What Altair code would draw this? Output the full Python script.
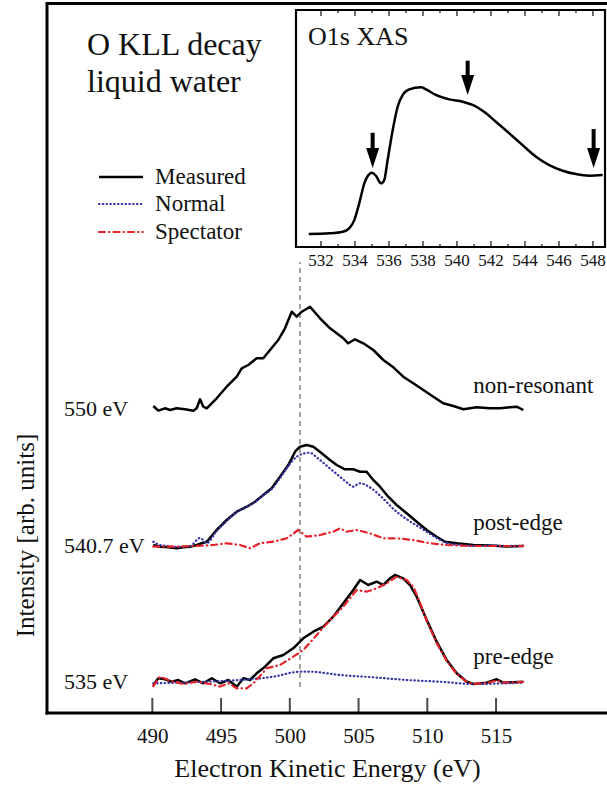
import altair as alt
import pandas as pd

FONT = "Liberation Serif, 'Times New Roman', Times, 'DejaVu Serif', serif"
BLACK = "#111111"
BLUE = "#3434a8"
RED = "#e5232b"

# ---------------- main panel: O KLL Auger spectra ----------------
nr_E = [490.07, 490.44, 490.92, 491.29, 491.77, 492.38, 492.98, 493.23, 493.47, 493.71,
        493.96, 494.68, 495.41, 496.14, 496.50, 496.98, 497.59, 498.07, 498.56, 499.16,
        499.65, 500.14, 500.50, 500.87, 501.47, 502.20, 502.93, 503.41, 503.89, 504.25,
        504.74, 505.35, 506.07, 506.80, 507.53, 508.25, 508.98, 509.71, 510.44, 511.16,
        511.89, 512.62, 513.59, 514.56, 515.29, 516.01, 516.50, 516.98]
nr_meas = [2.5, -2.2, 0.2, -1.5, 0.2, -0.8, -2.2, 0.2, 9.2, 1.8,
           0.2, 10.2, 21.8, 31.8, 40.2, 43.5, 50.2, 50.2, 58.5, 68.5,
           80.2, 96.8, 91.8, 96.8, 101.8, 90.2, 80.2, 75.2, 70.2, 65.2,
           69.2, 65.2, 58.5, 48.5, 41.2, 31.8, 25.2, 18.5, 11.8, 5.2,
           2.5, -0.8, 1.2, 0.2, 0.2, 1.2, 1.8, -1.5]

post_meas_E = [490.07, 490.56, 491.16, 491.77, 492.25, 492.74, 493.23, 493.59, 493.96, 494.68,
               495.41, 496.14, 496.87, 497.47, 498.07, 498.68, 499.29, 499.89, 500.38, 500.74,
               501.23, 501.71, 502.32, 502.92, 503.41, 504.01, 504.62, 505.11, 505.59, 506.07,
               506.56, 507.16, 507.77, 508.50, 509.23, 509.96, 510.68, 511.29, 512.14, 513.35,
               514.56, 515.77, 516.98]
post_meas = [1, -0.7, -1.3, -2.3, -1.3, -0.7, 1, 2.7, 4.3, 16,
             26, 34.3, 39.3, 44.3, 51, 57.7, 69.3, 81, 94.3, 99.3,
             101, 99.3, 92.7, 86, 81, 76.7, 76.7, 74.3, 74.3, 66,
             59.3, 49.3, 41, 32.7, 24.3, 16, 9.3, 4.3, 2.7, 1,
             0.5, -0.5, 0]
post_norm_E = [490.07, 490.56, 491.16, 491.77, 492.74, 493.47, 493.96, 494.68, 495.41, 496.14,
               496.87, 497.47, 498.07, 498.68, 499.29, 499.89, 500.50, 501.43, 502.04, 502.77,
               503.50, 504.23, 504.59, 505.08, 505.93, 506.65, 507.62, 508.59, 509.56, 510.53,
               511.50, 512.47, 513.35, 514.56, 515.77, 516.98]
post_norm = [4.3, 1, 0, -1, 0, 8, 3, 15, 25, 34,
             39, 44, 51, 57, 68, 80, 89.3, 93.3, 87.7, 79.3,
             71, 62.7, 59.3, 62.7, 57.7, 49.3, 36, 26, 17.7, 9.3,
             2.7, 1, 0, 0.5, 0, 0.3]
post_spec_E = [490.07, 491.53, 492.98, 494.44, 495.41, 496.38, 497.11, 497.83, 498.80, 499.77,
               500.62, 501.23, 502.20, 503.16, 503.65, 504.14, 504.87, 505.83, 506.80, 507.77,
               508.98, 510.20, 511.41, 512.87, 516.98]
post_spec = [-0.7, -0.7, 0, 1, 2.7, 1, -2.3, 2.7, 4.3, 7.7,
             16, 9.3, 11, 14.3, 17.7, 14.3, 16, 12.7, 7.7, 7.7,
             6, 2.7, 1, 0, 0]

pre_meas_E = [490.07, 490.44, 490.92, 491.41, 491.89, 492.38, 493.11, 493.71, 494.32, 494.92,
              495.53, 496.14, 496.62, 497.11, 497.59, 498.20, 498.80, 499.53, 500.25, 500.98,
              501.71, 502.44, 503.16, 503.89, 504.62, 505.11, 505.71, 506.32, 506.80, 507.29,
              507.65, 508.25, 508.74, 509.23, 509.96, 510.68, 511.41, 512.14, 512.87, 513.35,
              514.32, 515.05, 515.53, 516.98]
pre_meas = [-3, 3.7, 2.7, 0.3, 2, -1.3, 2.7, -1.3, 3.7, -1.3,
            2, -4.7, 3.7, 2, 8.7, 15.3, 23.7, 27, 33.7, 43.7,
            50.3, 55.3, 65.3, 78.7, 92, 102, 97, 100.3, 97, 103.7,
            107, 103.7, 97, 85.3, 62, 40.3, 22, 8.7, 0.3, -2,
            -0.7, 2.7, -0.7, 0.3]
pre_spec_E = [490.07, 490.56, 491.29, 492.25, 493.23, 494.20, 494.92, 495.53, 496.14, 496.87,
              497.47, 498.32, 499.29, 500.25, 500.98, 501.96, 502.93, 503.89, 504.86, 505.59,
              506.32, 507.05, 507.77, 508.50, 508.98, 509.40, 509.96, 510.68, 511.41, 512.14,
              512.87, 513.35, 514.32, 515.05, 515.53, 516.98]
pre_spec = [-4, 5.3, 1.3, -2, 0.3, -2, -4.7, -1.3, -6.3, -6.3,
            0.3, 13.7, 17, 25.3, 32, 47, 62, 75.3, 92, 90.3,
            93.7, 98.7, 105.3, 102, 95.3, 82, 61, 39, 21, 8,
            0, -2, -1, 1.5, -0.7, 0]
pre_norm_E = [490.07, 493.96, 496.38, 498.80, 500.74, 501.47, 503.65, 506.07, 508.50, 510.92,
              513.35, 516.98]
pre_norm = [-1.3, 0.3, 2, 5.3, 10.3, 10.3, 7, 4.7, 2, 0.3, -2, -0.7]

spectra = ["550 eV", "540.7 eV", "535 eV"]
offsets = [304.5, 167, 31]
side_labels = ["non-resonant", "post-edge", "pre-edge"]
side_label_y = [327, 190, 56]

x_ticks = [490, 495, 500, 505, 510, 515]
x_domain = [482.34, 523.07]
y_domain = [0, 713]
frame_top = 709.5
ref_energy = 500.74
ref_span = [26, 451]

legend_names = ["Measured", "Normal", "Spectator"]
legend_y = [536, 509, 481]

# ---------------- inset: O1s XAS ----------------
xas_E = [531.28, 532.49, 533.28, 533.66, 533.96, 534.25, 534.55, 534.75, 535.00, 535.24,
         535.53, 535.72, 535.92, 536.22, 536.51, 536.81, 537.19, 537.88, 538.18, 538.76,
         539.55, 540.34, 540.92, 541.71, 542.29, 543.08, 543.86, 544.65, 545.43, 546.22,
         547.00, 547.78, 548.57]
xas_I = [0.000, 0.005, 0.016, 0.039, 0.095, 0.209, 0.345, 0.395, 0.417, 0.395,
         0.345, 0.367, 0.503, 0.707, 0.866, 0.946, 0.984, 0.998, 0.984, 0.946,
         0.916, 0.900, 0.878, 0.821, 0.764, 0.685, 0.605, 0.526, 0.469, 0.431,
         0.408, 0.397, 0.401]
arrow_E = [535.04, 540.63, 548.04]
arrow_top = [0.689, 1.179, 0.714]
arrow_tip = [0.449, 0.946, 0.449]
inset_major = [532, 534, 536, 538, 540, 542, 544, 546, 548]
inset_minor = [533, 535, 537, 539, 541, 543, 545, 547]
inset_x_domain = [530.53, 548.71]
inset_y_domain = [-0.088, 1.524]


def spec_df(E, I, spectrum, series):
    assert len(E) == len(I)
    off = offsets[spectra.index(spectrum)]
    return pd.DataFrame({"E": E, "I": [v + off for v in I],
                         "spectrum": spectrum, "series": series})


lines = pd.concat([
    spec_df(nr_E, nr_meas, "550 eV", "Measured"),
    spec_df(post_meas_E, post_meas, "540.7 eV", "Measured"),
    spec_df(post_norm_E, post_norm, "540.7 eV", "Normal"),
    spec_df(post_spec_E, post_spec, "540.7 eV", "Spectator"),
    spec_df(pre_meas_E, pre_meas, "535 eV", "Measured"),
    spec_df(pre_spec_E, pre_spec, "535 eV", "Spectator"),
    spec_df(pre_norm_E, pre_norm, "535 eV", "Normal"),
], ignore_index=True)

XS = alt.Scale(domain=x_domain, nice=False, zero=False)
YS = alt.Scale(domain=y_domain, nice=False, zero=False)
X_AX = alt.Axis(values=x_ticks, ticks=False, domain=False, grid=False,
                labelFont=FONT, labelFontSize=21, labelColor=BLACK, labelPadding=12,
                title="Electron Kinetic Energy (eV)", titleFont=FONT, titleFontSize=26,
                titleFontWeight="normal", titleColor=BLACK, titlePadding=9)
Y_AX = alt.Axis(labels=False, ticks=False, domain=False, grid=False,
                title="Intensity [arb. units]", titleFont=FONT, titleFontSize=25,
                titleFontWeight="normal", titleColor=BLACK, titleAngle=270,
                titleX=-22, titleY=535, titleAlign="center", titleBaseline="middle")


def X(field="E"):
    return alt.X(f"{field}:Q", scale=XS, axis=X_AX)


def Y(field="I"):
    return alt.Y(f"{field}:Q", scale=YS, axis=Y_AX)


base_lines = alt.Chart(lines)

# frame drawn as a filled band for the top edge plus rules for left and bottom
frame_left = alt.Chart(pd.DataFrame({"E": [x_domain[0]], "I": [y_domain[0]], "I2": [frame_top]})).mark_rule(
    color="black", strokeWidth=3, strokeCap="square").encode(x=X(), y=Y(), y2="I2:Q")
frame_bottom = alt.Chart(pd.DataFrame({"E": [x_domain[0]], "E2": [x_domain[1]], "I": [y_domain[0]]})).mark_rule(
    color="black", strokeWidth=3, strokeCap="square").encode(x=X(), x2="E2:Q", y=Y())
frame_top_band = alt.Chart(pd.DataFrame({"E": [x_domain[0]], "E2": [x_domain[1]],
                                         "I": [frame_top - 1.5], "I2": [frame_top + 1.5]})).mark_rect(
    color="black", opacity=1).encode(x=X(), x2="E2:Q", y=Y(), y2="I2:Q")

ticks = alt.Chart(pd.DataFrame({"E": x_ticks, "I": [0] * len(x_ticks)})).mark_tick(
    orient="vertical", size=15, thickness=2, yOffset=-7.5, color="black").encode(x=X(), y=Y())

ref_line = alt.Chart(pd.DataFrame({"E": [ref_energy], "I": [ref_span[0]], "I2": [ref_span[1]]})).mark_rule(
    color="#9a9a9a", strokeWidth=1.8, strokeDash=[5, 4]).encode(x=X(), y=Y(), y2="I2:Q")

meas = base_lines.transform_filter(alt.datum.series == "Measured").mark_line(
    color="black", strokeWidth=2.5, strokeJoin="round").encode(x=X(), y=Y(), detail="spectrum:N")
norm = base_lines.transform_filter(alt.datum.series == "Normal").mark_line(
    color=BLUE, strokeWidth=2.2, strokeDash=[0.5, 3.3], strokeCap="round",
    interpolate="monotone").encode(x=X(), y=Y(), detail="spectrum:N")
spec = base_lines.transform_filter(alt.datum.series == "Spectator").mark_line(
    color=RED, strokeWidth=2.2, strokeDash=[6, 4, 0.5, 4], strokeCap="round").encode(
    x=X(), y=Y(), detail="spectrum:N")

leg_x = [486.12, 489.32]
leg_styles = [dict(color="black", strokeWidth=2.5),
              dict(color=BLUE, strokeWidth=2.2, strokeDash=[0.5, 3.3], strokeCap="round"),
              dict(color=RED, strokeWidth=2.2, strokeDash=[6, 4, 0.5, 4], strokeCap="round")]
legend_layers = []
for name, ly, st in zip(legend_names, legend_y, leg_styles):
    legend_layers.append(
        alt.Chart(pd.DataFrame({"E": [leg_x[0]], "E2": [leg_x[1]], "I": [ly]})).mark_rule(**st).encode(
            x=X(), x2="E2:Q", y=Y()))
legend_text = alt.Chart(pd.DataFrame({"E": [490.2] * 3, "I": legend_y, "t": legend_names})).mark_text(
    align="left", baseline="middle", font=FONT, fontSize=23, color=BLACK).encode(
    x=X(), y=Y(), text="t:N")

title_text = alt.Chart(pd.DataFrame({"E": [485.25, 485.25], "I": [668, 631],
                                     "t": ["O KLL decay", "liquid water"]})).mark_text(
    align="left", baseline="middle", font=FONT, fontSize=32, color=BLACK).encode(
    x=X(), y=Y(), text="t:N")

left_labels = alt.Chart(pd.DataFrame({"E": [483.58] * 3, "I": offsets, "t": spectra})).mark_text(
    align="left", baseline="middle", font=FONT, fontSize=22, color=BLACK).encode(
    x=X(), y=Y(), text="t:N")

right_labels = alt.Chart(pd.DataFrame({"E": [513.35] * 3, "I": side_label_y, "t": side_labels})).mark_text(
    align="left", baseline="middle", font=FONT, fontSize=23, color=BLACK).encode(
    x=X(), y=Y(), text="t:N")

main = alt.layer(frame_left, frame_bottom, frame_top_band, ticks, ref_line, meas, norm, spec,
                 *legend_layers, legend_text, title_text, left_labels, right_labels)

# ---------------- inset layers ----------------
IXS = alt.Scale(domain=inset_x_domain, range=[249, 558], nice=False, zero=False)
IYS = alt.Scale(domain=inset_y_domain, range=[247, 10], nice=False, zero=False)


def IX(field="E"):
    return alt.X(f"{field}:Q", scale=IXS, axis=None)


def IY(field="I"):
    return alt.Y(f"{field}:Q", scale=IYS, axis=None)


inset_box = alt.Chart(pd.DataFrame({"E": [inset_x_domain[0]], "E2": [inset_x_domain[1]],
                                    "I": [inset_y_domain[0]], "I2": [inset_y_domain[1]]})).mark_rect(
    fill="white", stroke="black", strokeWidth=2.2).encode(x=IX(), x2="E2:Q", y=IY(), y2="I2:Q")

maj = pd.DataFrame({"E": inset_major})
mnr = pd.DataFrame({"E": inset_minor})
itick_layers = [
    alt.Chart(maj).mark_tick(orient="vertical", size=6, thickness=1.6, yOffset=-3, color="black").encode(
        x=IX(), y=alt.datum(inset_y_domain[0], scale=IYS, axis=None)),
    alt.Chart(mnr).mark_tick(orient="vertical", size=3, thickness=1.6, yOffset=-1.5, color="black").encode(
        x=IX(), y=alt.datum(inset_y_domain[0], scale=IYS, axis=None)),
    alt.Chart(maj).mark_tick(orient="vertical", size=6, thickness=1.6, yOffset=3, color="black").encode(
        x=IX(), y=alt.datum(inset_y_domain[1], scale=IYS, axis=None)),
    alt.Chart(mnr).mark_tick(orient="vertical", size=3, thickness=1.6, yOffset=1.5, color="black").encode(
        x=IX(), y=alt.datum(inset_y_domain[1], scale=IYS, axis=None)),
]
ilabels = alt.Chart(maj.assign(t=[str(v) for v in inset_major])).mark_text(
    baseline="middle", align="center", dy=14, font=FONT, fontSize=17, color=BLACK).encode(
    x=IX(), y=alt.datum(inset_y_domain[0], scale=IYS, axis=None), text="t:N")

xas = alt.Chart(pd.DataFrame({"E": xas_E, "I": xas_I})).mark_line(
    color="black", strokeWidth=2.5, interpolate="monotone").encode(x=IX(), y=IY())

arrows = pd.DataFrame({"E": arrow_E, "I": arrow_top, "I2": [t + 0.1 for t in arrow_tip], "tip": arrow_tip})
shafts = alt.Chart(arrows).mark_rule(color="black", strokeWidth=4).encode(x=IX(), y=IY(), y2="I2:Q")
heads = alt.Chart(arrows).mark_point(shape="M-0.65,-2L0.65,-2L0,0Z", filled=True, size=400,
                                     color="black", opacity=1).encode(x=IX(), y=IY("tip"))

inset_title = alt.Chart(pd.DataFrame({"E": [531.24], "I": [1.34], "t": ["O1s XAS"]})).mark_text(
    align="left", baseline="middle", font=FONT, fontSize=26, color=BLACK).encode(
    x=IX(), y=IY(), text="t:N")

inset = alt.layer(inset_box, *itick_layers, ilabels, xas, shafts, heads, inset_title)

chart = alt.layer(main, inset).resolve_scale(x="independent", y="independent").properties(
    width=560, height=713,
    padding={"left": 47, "top": 0, "right": 0, "bottom": 74},
    autosize=alt.AutoSizeParams(type="none"),
    background="white",
).configure_view(stroke=None)

chart.save("out.html", embed_options={"renderer": "svg", "actions": False})
